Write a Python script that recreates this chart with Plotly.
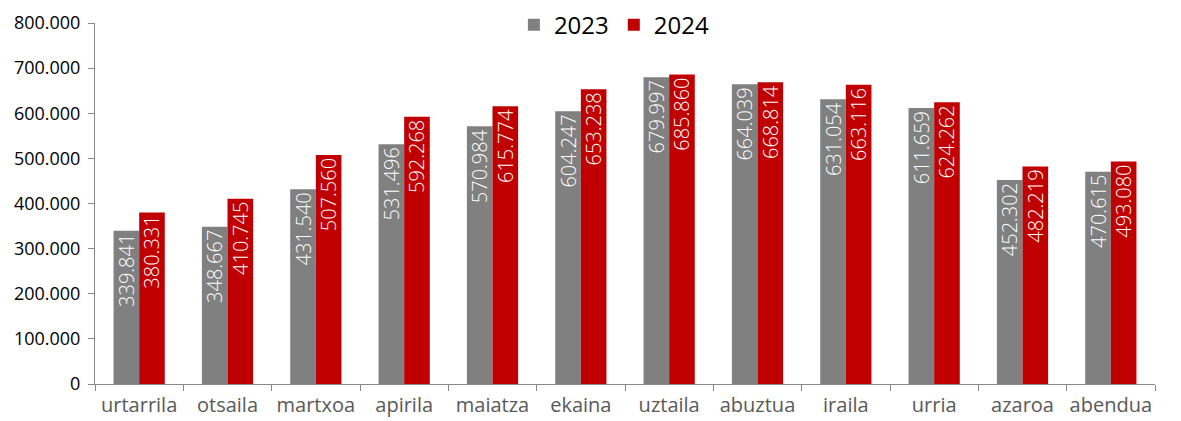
import plotly.graph_objects as go

months = ["urtarrila", "otsaila", "martxoa", "apirila", "maiatza", "ekaina",
          "uztaila", "abuztua", "iraila", "urria", "azaroa", "abendua"]
v2023 = [339841, 348667, 431540, 531496, 570984, 604247,
         679997, 664039, 631054, 611659, 452302, 470615]
v2024 = [380331, 410745, 507560, 592268, 615774, 653238,
         685860, 668814, 663116, 624262, 482219, 493080]

font = "Open Sans, Noto Sans, sans-serif"

fig = go.Figure()
for name, vals, col in [("2023", v2023, "#808080"), ("2024", v2024, "#C00000")]:
    fig.add_trace(go.Bar(
        x=months, y=vals, name=name,
        marker=dict(color=col, line=dict(width=0)),
        texttemplate="%{y:,.0f}",
        textposition="inside",
        insidetextanchor="end",
        textangle=-90,
        textfont=dict(color="white", size=20, family=font, weight=300),
    ))

# page body adds an 8px margin, so the figure is 8px smaller on each side
fig.update_layout(
    width=1173, height=413,
    margin=dict(l=87, r=26, t=15, b=37, autoexpand=False),
    paper_bgcolor="white", plot_bgcolor="white",
    separators=",.",
    barmode="group", bargap=0.42, bargroupgap=0,
    uniformtext=dict(minsize=20, mode="show"),
    font=dict(family=font, color="black"),
    legend=dict(orientation="h", x=0.49, xanchor="center", y=0.994, yanchor="middle",
                font=dict(size=24, color="black"), bgcolor="rgba(0,0,0,0)",
                traceorder="normal"),
    xaxis=dict(showline=True, linecolor="#898989", linewidth=1,
               tickson="boundaries", ticks="outside", ticklen=6, tickcolor="#898989",
               tickangle=0, automargin=False, ticklabelstandoff=3,
               tickfont=dict(size=20, color="#595959", family=font),
               showgrid=False),
    yaxis=dict(range=[0, 800000], dtick=100000, tickformat=",.0f",
               showline=True, linecolor="#898989", linewidth=1,
               ticks="outside", ticklen=6, tickcolor="#898989", automargin=False,
               ticklabelstandoff=4,
               tickfont=dict(size=18, color="black", family=font),
               showgrid=False, zeroline=False),
)

fig.write_html("out.html")
